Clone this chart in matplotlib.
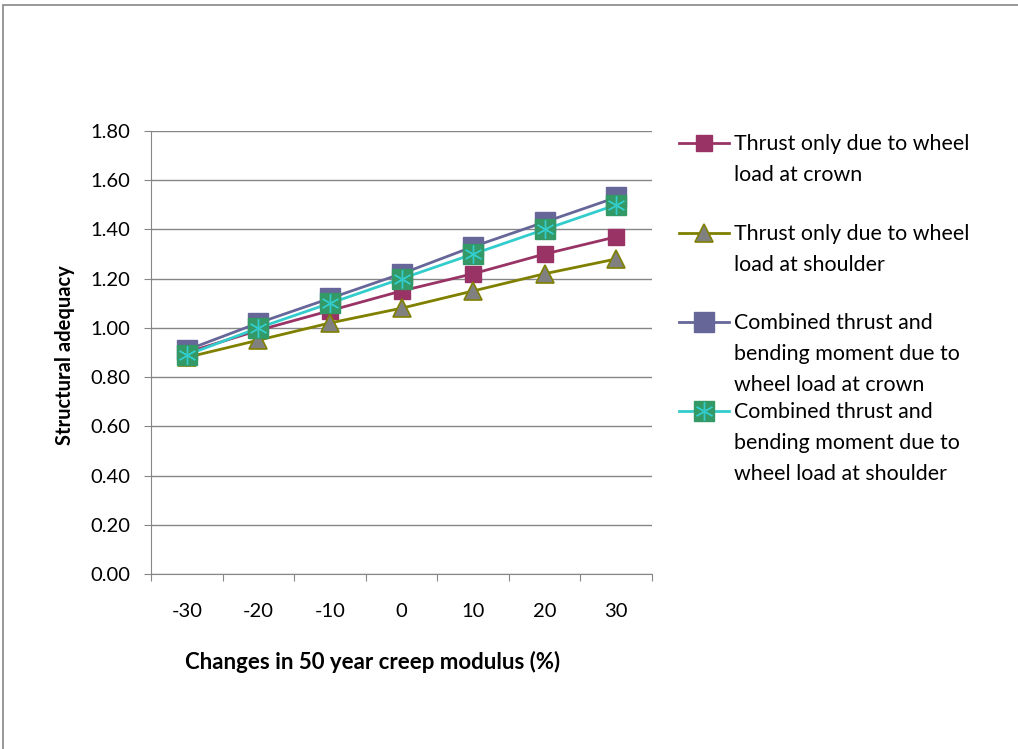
import matplotlib
matplotlib.use("Agg")
import matplotlib.pyplot as plt
from matplotlib.lines import Line2D
from matplotlib.patches import Rectangle

plt.rcParams['font.family'] = ['Lato', 'DejaVu Sans']

# data
changes = ['-30', '-20', '-10', '0', '10', '20', '30']
thrust_crown = [0.90, 0.99, 1.07, 1.15, 1.22, 1.30, 1.37]
thrust_shoulder = [0.88, 0.95, 1.02, 1.08, 1.15, 1.22, 1.28]
combined_crown = [0.91, 1.02, 1.12, 1.22, 1.33, 1.43, 1.53]
combined_shoulder = [0.89, 1.00, 1.10, 1.20, 1.30, 1.40, 1.50]
y_ticks = [0.0, 0.2, 0.4, 0.6, 0.8, 1.0, 1.2, 1.4, 1.6, 1.8]

labels = ['Thrust only due to wheel\nload at crown',
          'Thrust only due to wheel\nload at shoulder',
          'Combined thrust and\nbending moment due to\nwheel load at crown',
          'Combined thrust and\nbending moment due to\nwheel load at shoulder']

W, H = 1018, 749
fig = plt.figure(figsize=(W / 100, H / 100), dpi=100)

# chart area border (runs off the right and bottom edges)
fig.patches.append(Rectangle((3 / W, -0.05), 1.2, 1 - 5 / H + 0.05,
                             transform=fig.transFigure, fill=False,
                             edgecolor='#868686', linewidth=1.2))

ax = fig.add_axes([151 / W, (H - 574) / H, (652 - 151) / W, (574 - 131) / H])
x = list(range(len(changes)))

styles = [
    dict(color='#993366', marker='s', markersize=11.5, markerfacecolor='#993366',
         markeredgecolor='#993366'),
    dict(color='#808000', marker='^', markersize=13.5, markerfacecolor='#808080',
         markeredgecolor='#808000', markeredgewidth=1.2),
    dict(color='#666699', marker='s', markersize=14.5, markerfacecolor='#666699',
         markeredgecolor='#666699'),
    dict(color='#33CCCC', marker='s', markersize=14.5, markerfacecolor='#339966',
         markeredgecolor='#339966'),
]
star = dict(marker=(6, 2, 0), markersize=13, markeredgecolor='#33CCCC',
            markeredgewidth=1.0, linestyle='none')

for series, st in zip([thrust_crown, thrust_shoulder, combined_crown, combined_shoulder], styles):
    ax.plot(x, series, linewidth=2, **st)
ax.plot(x, combined_shoulder, **star)

ax.set_xlim(-0.5, len(changes) - 0.5)
ax.set_ylim(0, 1.8)
ax.set_yticks(y_ticks)
ax.set_yticklabels([f'{v:.2f}' for v in y_ticks])
ax.yaxis.grid(True, color='#868686', linewidth=1)
ax.set_axisbelow(True)

ax.set_xticks([i - 0.5 for i in range(len(changes) + 1)])
ax.set_xticklabels([])
ax.set_xticks(x, minor=True)
ax.set_xticklabels(changes, minor=True)
ax.tick_params(axis='x', which='major', length=5, color='#868686')
ax.tick_params(axis='x', which='minor', length=0, pad=21, labelsize=14.5)
ax.tick_params(axis='y', length=5, color='#868686', pad=10, labelsize=14.5)

for s in ['top', 'right']:
    ax.spines[s].set_visible(False)
for s in ['left', 'bottom']:
    ax.spines[s].set_color('#868686')

fig.text(373 / W, 1 - 662 / H, 'Changes in 50 year creep modulus (%)',
         ha='center', va='center', fontsize=16, fontweight='bold')
fig.text(65 / W, 1 - 355 / H, 'Structural adequacy', rotation=90,
         ha='center', va='center', fontsize=14.5, fontweight='bold')

# legend, drawn by hand so each marker sits on the first text line
rows = [143, 233, 322, 411]
for lab, st, yr in zip(labels, styles, rows):
    yf = 1 - yr / H
    fig.add_artist(Line2D([679 / W, 729 / W], [yf, yf], transform=fig.transFigure,
                          linewidth=2, **{**st, 'marker': 'none'}))
    fig.add_artist(Line2D([704 / W], [yf], transform=fig.transFigure,
                          linestyle='none', **{k: v for k, v in st.items() if k != 'color'}))
    fig.text(734 / W, yf + 9 / H, lab, ha='left', va='top', fontsize=15.4,
             linespacing=1.7)
fig.add_artist(Line2D([704 / W], [1 - rows[3] / H], transform=fig.transFigure, **star))

fig.savefig('out.png', dpi=100)
